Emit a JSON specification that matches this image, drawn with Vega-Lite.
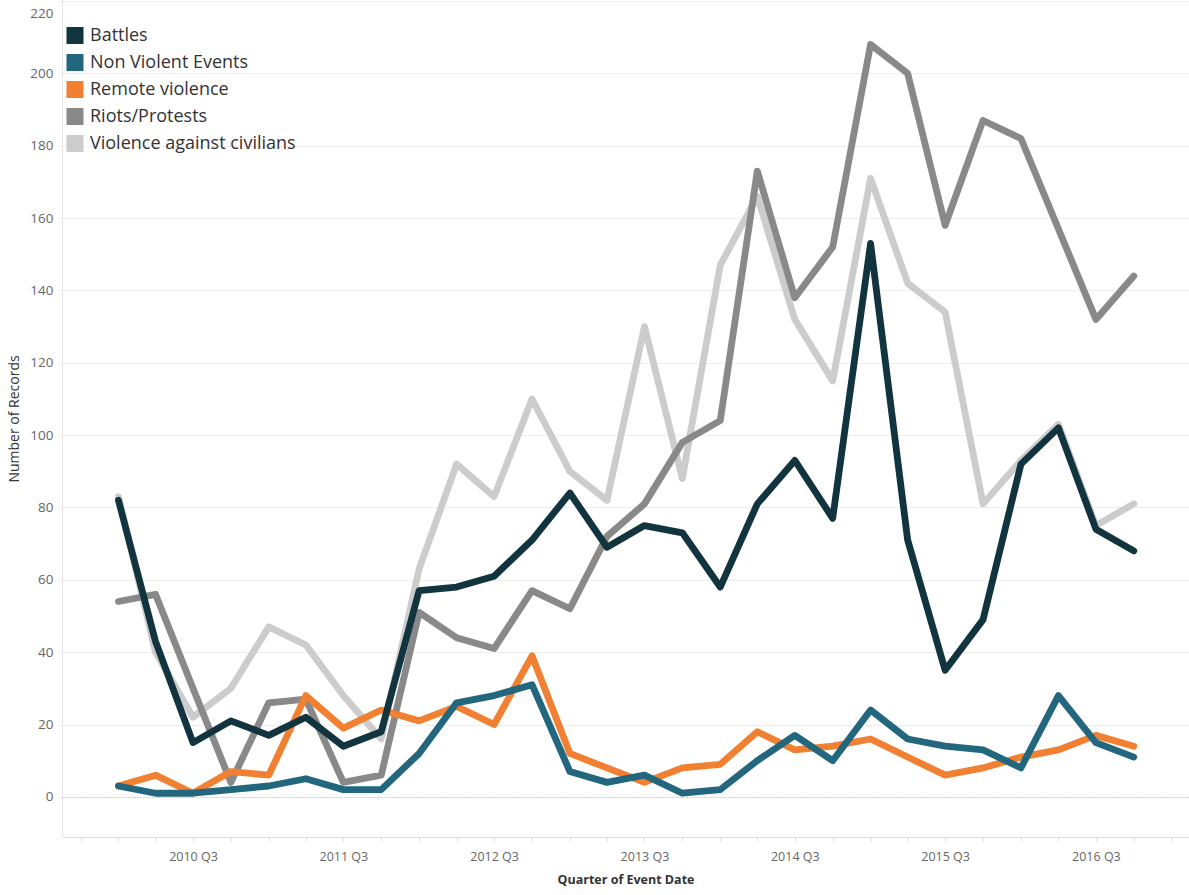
{
  "$schema": "https://vega.github.io/schema/vega-lite/v6.json",
  "width": 1127,
  "height": 837,
  "autosize": {"type": "none"},
  "padding": {"top": 0, "left": 62, "right": 0, "bottom": 58},
  "background": "white",
  "config": {"view": {"stroke": null}, "font": "Open Sans"},
  "data": {"values": [
      {"q":"2010-01-01","s":"Violence against civilians","n":83},{"q":"2010-04-01","s":"Violence against civilians","n":40},{"q":"2010-07-01","s":"Violence against civilians","n":22},{"q":"2010-10-01","s":"Violence against civilians","n":30},
      {"q":"2011-01-01","s":"Violence against civilians","n":47},{"q":"2011-04-01","s":"Violence against civilians","n":42},{"q":"2011-07-01","s":"Violence against civilians","n":28},{"q":"2011-10-01","s":"Violence against civilians","n":16},
      {"q":"2012-01-01","s":"Violence against civilians","n":63},{"q":"2012-04-01","s":"Violence against civilians","n":92},{"q":"2012-07-01","s":"Violence against civilians","n":83},{"q":"2012-10-01","s":"Violence against civilians","n":110},
      {"q":"2013-01-01","s":"Violence against civilians","n":90},{"q":"2013-04-01","s":"Violence against civilians","n":82},{"q":"2013-07-01","s":"Violence against civilians","n":130},{"q":"2013-10-01","s":"Violence against civilians","n":88},
      {"q":"2014-01-01","s":"Violence against civilians","n":147},{"q":"2014-04-01","s":"Violence against civilians","n":166},{"q":"2014-07-01","s":"Violence against civilians","n":132},{"q":"2014-10-01","s":"Violence against civilians","n":115},
      {"q":"2015-01-01","s":"Violence against civilians","n":171},{"q":"2015-04-01","s":"Violence against civilians","n":142},{"q":"2015-07-01","s":"Violence against civilians","n":134},{"q":"2015-10-01","s":"Violence against civilians","n":81},
      {"q":"2016-01-01","s":"Violence against civilians","n":93},{"q":"2016-04-01","s":"Violence against civilians","n":103},{"q":"2016-07-01","s":"Violence against civilians","n":75},{"q":"2016-10-01","s":"Violence against civilians","n":81},
      {"q":"2010-01-01","s":"Riots/Protests","n":54},{"q":"2010-04-01","s":"Riots/Protests","n":56},{"q":"2010-07-01","s":"Riots/Protests","n":30},{"q":"2010-10-01","s":"Riots/Protests","n":4},
      {"q":"2011-01-01","s":"Riots/Protests","n":26},{"q":"2011-04-01","s":"Riots/Protests","n":27},{"q":"2011-07-01","s":"Riots/Protests","n":4},{"q":"2011-10-01","s":"Riots/Protests","n":6},
      {"q":"2012-01-01","s":"Riots/Protests","n":51},{"q":"2012-04-01","s":"Riots/Protests","n":44},{"q":"2012-07-01","s":"Riots/Protests","n":41},{"q":"2012-10-01","s":"Riots/Protests","n":57},
      {"q":"2013-01-01","s":"Riots/Protests","n":52},{"q":"2013-04-01","s":"Riots/Protests","n":72},{"q":"2013-07-01","s":"Riots/Protests","n":81},{"q":"2013-10-01","s":"Riots/Protests","n":98},
      {"q":"2014-01-01","s":"Riots/Protests","n":104},{"q":"2014-04-01","s":"Riots/Protests","n":173},{"q":"2014-07-01","s":"Riots/Protests","n":138},{"q":"2014-10-01","s":"Riots/Protests","n":152},
      {"q":"2015-01-01","s":"Riots/Protests","n":208},{"q":"2015-04-01","s":"Riots/Protests","n":200},{"q":"2015-07-01","s":"Riots/Protests","n":158},{"q":"2015-10-01","s":"Riots/Protests","n":187},
      {"q":"2016-01-01","s":"Riots/Protests","n":182},{"q":"2016-04-01","s":"Riots/Protests","n":157},{"q":"2016-07-01","s":"Riots/Protests","n":132},{"q":"2016-10-01","s":"Riots/Protests","n":144},
      {"q":"2010-01-01","s":"Remote violence","n":3},{"q":"2010-04-01","s":"Remote violence","n":6},{"q":"2010-07-01","s":"Remote violence","n":1},{"q":"2010-10-01","s":"Remote violence","n":7},
      {"q":"2011-01-01","s":"Remote violence","n":6},{"q":"2011-04-01","s":"Remote violence","n":28},{"q":"2011-07-01","s":"Remote violence","n":19},{"q":"2011-10-01","s":"Remote violence","n":24},
      {"q":"2012-01-01","s":"Remote violence","n":21},{"q":"2012-04-01","s":"Remote violence","n":25},{"q":"2012-07-01","s":"Remote violence","n":20},{"q":"2012-10-01","s":"Remote violence","n":39},
      {"q":"2013-01-01","s":"Remote violence","n":12},{"q":"2013-04-01","s":"Remote violence","n":8},{"q":"2013-07-01","s":"Remote violence","n":4},{"q":"2013-10-01","s":"Remote violence","n":8},
      {"q":"2014-01-01","s":"Remote violence","n":9},{"q":"2014-04-01","s":"Remote violence","n":18},{"q":"2014-07-01","s":"Remote violence","n":13},{"q":"2014-10-01","s":"Remote violence","n":14},
      {"q":"2015-01-01","s":"Remote violence","n":16},{"q":"2015-04-01","s":"Remote violence","n":11},{"q":"2015-07-01","s":"Remote violence","n":6},{"q":"2015-10-01","s":"Remote violence","n":8},
      {"q":"2016-01-01","s":"Remote violence","n":11},{"q":"2016-04-01","s":"Remote violence","n":13},{"q":"2016-07-01","s":"Remote violence","n":17},{"q":"2016-10-01","s":"Remote violence","n":14},
      {"q":"2010-01-01","s":"Non Violent Events","n":3},{"q":"2010-04-01","s":"Non Violent Events","n":1},{"q":"2010-07-01","s":"Non Violent Events","n":1},{"q":"2010-10-01","s":"Non Violent Events","n":2},
      {"q":"2011-01-01","s":"Non Violent Events","n":3},{"q":"2011-04-01","s":"Non Violent Events","n":5},{"q":"2011-07-01","s":"Non Violent Events","n":2},{"q":"2011-10-01","s":"Non Violent Events","n":2},
      {"q":"2012-01-01","s":"Non Violent Events","n":12},{"q":"2012-04-01","s":"Non Violent Events","n":26},{"q":"2012-07-01","s":"Non Violent Events","n":28},{"q":"2012-10-01","s":"Non Violent Events","n":31},
      {"q":"2013-01-01","s":"Non Violent Events","n":7},{"q":"2013-04-01","s":"Non Violent Events","n":4},{"q":"2013-07-01","s":"Non Violent Events","n":6},{"q":"2013-10-01","s":"Non Violent Events","n":1},
      {"q":"2014-01-01","s":"Non Violent Events","n":2},{"q":"2014-04-01","s":"Non Violent Events","n":10},{"q":"2014-07-01","s":"Non Violent Events","n":17},{"q":"2014-10-01","s":"Non Violent Events","n":10},
      {"q":"2015-01-01","s":"Non Violent Events","n":24},{"q":"2015-04-01","s":"Non Violent Events","n":16},{"q":"2015-07-01","s":"Non Violent Events","n":14},{"q":"2015-10-01","s":"Non Violent Events","n":13},
      {"q":"2016-01-01","s":"Non Violent Events","n":8},{"q":"2016-04-01","s":"Non Violent Events","n":28},{"q":"2016-07-01","s":"Non Violent Events","n":15},{"q":"2016-10-01","s":"Non Violent Events","n":11},
      {"q":"2010-01-01","s":"Battles","n":82},{"q":"2010-04-01","s":"Battles","n":43},{"q":"2010-07-01","s":"Battles","n":15},{"q":"2010-10-01","s":"Battles","n":21},
      {"q":"2011-01-01","s":"Battles","n":17},{"q":"2011-04-01","s":"Battles","n":22},{"q":"2011-07-01","s":"Battles","n":14},{"q":"2011-10-01","s":"Battles","n":18},
      {"q":"2012-01-01","s":"Battles","n":57},{"q":"2012-04-01","s":"Battles","n":58},{"q":"2012-07-01","s":"Battles","n":61},{"q":"2012-10-01","s":"Battles","n":71},
      {"q":"2013-01-01","s":"Battles","n":84},{"q":"2013-04-01","s":"Battles","n":69},{"q":"2013-07-01","s":"Battles","n":75},{"q":"2013-10-01","s":"Battles","n":73},
      {"q":"2014-01-01","s":"Battles","n":58},{"q":"2014-04-01","s":"Battles","n":81},{"q":"2014-07-01","s":"Battles","n":93},{"q":"2014-10-01","s":"Battles","n":77},
      {"q":"2015-01-01","s":"Battles","n":153},{"q":"2015-04-01","s":"Battles","n":71},{"q":"2015-07-01","s":"Battles","n":35},{"q":"2015-10-01","s":"Battles","n":49},
      {"q":"2016-01-01","s":"Battles","n":92},{"q":"2016-04-01","s":"Battles","n":102},{"q":"2016-07-01","s":"Battles","n":74},{"q":"2016-10-01","s":"Battles","n":68}
  ]},
  "mark": {"type": "line", "strokeWidth": 6.8, "strokeCap": "round", "strokeJoin": "round"},
  "encoding": {
    "x": {
      "field": "q",
      "type": "temporal",
      "scale": {
        "type": "utc",
        "domain": [
          {"year": 2009, "month": 8, "date": 17, "utc": true},
          {"year": 2017, "month": 2, "date": 12, "utc": true}
        ]
      },
      "axis": {
        "title": "Quarter of Event Date",
        "tickCount": {"interval": "month", "step": 3},
        "labelExpr": "utcFormat(datum.value, '%m') == '07' ? utcFormat(datum.value, '%Y') + ' Q3' : ''",
        "labelOverlap": false,
        "grid": false,
        "domainColor": "#dddddd",
        "tickColor": "#dddddd",
        "tickSize": 4,
        "labelPadding": 9,
        "labelColor": "#666666",
        "labelFontSize": 12.5,
        "titleFontSize": 12.5,
        "titleFontWeight": "bold",
        "titleColor": "#333333",
        "titlePadding": 11
      }
    },
    "y": {
      "field": "n",
      "type": "quantitative",
      "scale": {"domain": [-11.1, 220.3], "nice": false, "zero": false},
      "axis": {
        "title": "Number of Records",
        "values": [0, 20, 40, 60, 80, 100, 120, 140, 160, 180, 200, 220],
        "grid": true,
        "gridColor": {"condition": {"test": "datum.value === 0", "value": "#a0a0a0"}, "value": "#eeeeee"},
        "gridDash": {"condition": {"test": "datum.value === 0", "value": [1, 2]}, "value": []},
        "domainColor": "#e6e6e6",
        "tickColor": "#e6e6e6",
        "tickSize": 3,
        "labelPadding": 6,
        "labelBaseline": {"condition": {"test": "datum.value === 220", "value": "top"}, "value": "middle"},
        "labelOffset": {"condition": {"test": "datum.value === 220", "value": 5}, "value": 0},
        "labelColor": "#666666",
        "labelFontSize": 13.5,
        "titleFontSize": 14,
        "titleFontWeight": "normal",
        "titleColor": "#333333",
        "titlePadding": 8
      }
    },
    "color": {
      "field": "s",
      "type": "nominal",
      "scale": {
        "domain": ["Battles", "Non Violent Events", "Remote violence", "Riots/Protests", "Violence against civilians"],
        "range": ["#12343f", "#23677e", "#f28032", "#898989", "#cccccc"]
      },
      "legend": {
        "title": null,
        "orient": "none",
        "legendX": 4,
        "legendY": 27,
        "padding": 0,
        "symbolType": "square",
        "symbolSize": 64,
        "symbolStrokeWidth": 9,
        "clipHeight": 17,
        "labelFontSize": 18,
        "labelLimit": 500,
        "labelColor": "#333333",
        "labelOffset": 6,
        "rowPadding": 8
      }
    }
  }
}
